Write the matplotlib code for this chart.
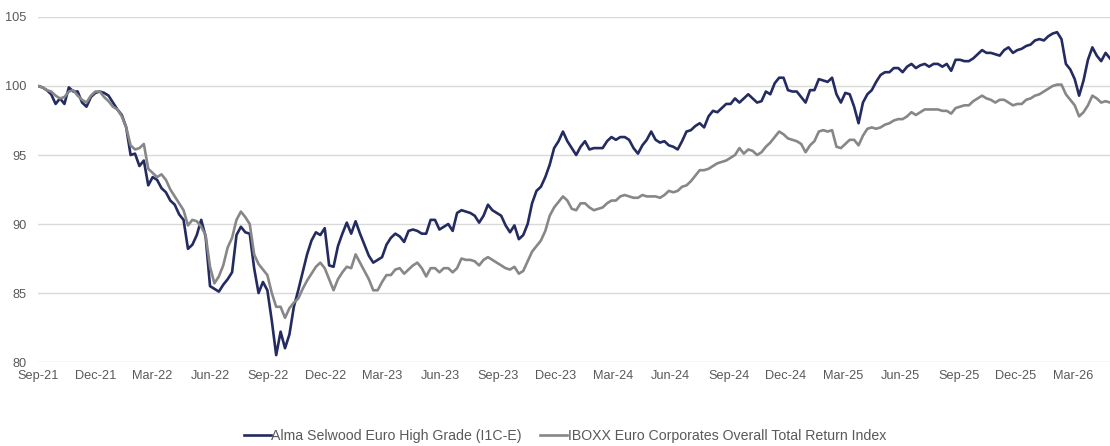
#!/usr/bin/env python3
"""Alma Selwood Euro High Grade vs IBOXX Euro Corporates - rebased performance chart.

Weekly values (rebased to 100 at Sep-21) read off the factsheet chart.
"""
import numpy as np
import pandas as pd
import matplotlib
matplotlib.use("Agg")
import matplotlib.pyplot as plt
import matplotlib.dates as mdates

# ---------------- Data ----------------
start_date = "2021-09-01"
step = "7D"

fund_label = "Alma Selwood Euro High Grade (I1C-E)"
index_label = "IBOXX Euro Corporates Overall Total Return Index"

fund = [
    100.0, 99.9, 99.7, 99.4, 98.7, 99.1, 98.7, 99.9, 99.6, 99.6,
    98.8, 98.5, 99.2, 99.5, 99.6, 99.5, 99.3, 98.8, 98.3, 97.9,
    97.0, 95.0, 95.1, 94.2, 94.6, 92.8, 93.4, 93.2, 92.6, 92.3,
    91.7, 91.4, 90.7, 90.3, 88.2, 88.5, 89.2, 90.3, 89.1, 85.5,
    85.3, 85.1, 85.6, 86.0, 86.5, 89.2, 89.8, 89.4, 89.3, 86.8,
    85.0, 85.8, 85.2, 83.0, 80.5, 82.2, 81.0, 82.0, 84.0, 85.2,
    86.5, 87.8, 88.8, 89.4, 89.2, 89.7, 87.0, 86.9, 88.4, 89.3,
    90.1, 89.3, 90.2, 89.3, 88.5, 87.7, 87.2, 87.4, 87.6, 88.5,
    89.0, 89.3, 89.1, 88.7, 89.5, 89.6, 89.5, 89.3, 89.3, 90.3,
    90.3, 89.6, 89.8, 90.0, 89.5, 90.8, 91.0, 90.9, 90.8, 90.6,
    90.1, 90.6, 91.4, 91.0, 90.8, 90.6, 89.9, 89.4, 89.9, 88.9,
    89.2, 90.0, 91.5, 92.4, 92.7, 93.4, 94.3, 95.5, 96.0, 96.7,
    96.0, 95.5, 95.0, 95.6, 96.0, 95.4, 95.5, 95.5, 95.5, 96.0,
    96.3, 96.1, 96.3, 96.3, 96.1, 95.5, 95.1, 95.7, 96.1, 96.7,
    96.1, 95.9, 96.0, 95.7, 95.6, 95.4, 96.0, 96.7, 96.8, 97.1,
    97.3, 97.0, 97.8, 98.2, 98.1, 98.4, 98.7, 98.7, 99.1, 98.8,
    99.1, 99.4, 99.1, 98.8, 98.9, 99.6, 99.4, 100.2, 100.6, 100.6,
    99.7, 99.6, 99.6, 99.2, 98.8, 99.7, 99.7, 100.5, 100.4, 100.3,
    100.6, 99.4, 98.8, 99.5, 99.4, 98.5, 97.3, 98.8, 99.4, 99.7,
    100.3, 100.8, 101.0, 101.0, 101.3, 101.3, 101.0, 101.4, 101.6, 101.3,
    101.5, 101.6, 101.4, 101.6, 101.6, 101.4, 101.6, 101.1, 101.9, 101.9,
    101.8, 101.8, 102.0, 102.3, 102.6, 102.4, 102.4, 102.3, 102.2, 102.6,
    102.8, 102.4, 102.6, 102.7, 102.9, 103.0, 103.3, 103.4, 103.3, 103.6,
    103.8, 103.9, 103.4, 101.6, 101.2, 100.5, 99.3, 100.4, 101.9, 102.8,
    102.2, 101.8, 102.4, 102.0,
]

index = [
    100.0, 99.9, 99.7, 99.6, 99.3, 99.1, 99.2, 99.6, 99.7, 99.3,
    99.0, 98.8, 99.3, 99.6, 99.6, 99.2, 98.9, 98.5, 98.3, 97.8,
    97.0, 95.7, 95.4, 95.5, 95.8, 94.0, 93.7, 93.4, 93.6, 93.2,
    92.5, 92.0, 91.5, 91.0, 89.9, 90.3, 90.2, 89.8, 89.2, 86.9,
    85.7, 86.2, 87.0, 88.3, 89.0, 90.3, 90.9, 90.5, 90.0, 87.8,
    87.1, 86.7, 86.3, 85.0, 84.0, 84.0, 83.2, 83.9, 84.3, 84.6,
    85.3, 85.9, 86.4, 86.9, 87.2, 86.8, 86.0, 85.2, 86.0, 86.5,
    86.9, 86.8, 87.8, 87.2, 86.6, 86.0, 85.2, 85.2, 85.8, 86.3,
    86.3, 86.7, 86.8, 86.4, 86.7, 87.0, 87.2, 86.8, 86.2, 86.8,
    86.8, 86.5, 86.8, 86.8, 86.5, 86.8, 87.5, 87.4, 87.4, 87.3,
    87.0, 87.4, 87.6, 87.4, 87.2, 87.0, 86.8, 86.7, 86.9, 86.4,
    86.6, 87.3, 88.0, 88.4, 88.8, 89.5, 90.6, 91.2, 91.6, 92.0,
    91.7, 91.1, 91.0, 91.5, 91.5, 91.2, 91.0, 91.1, 91.2, 91.5,
    91.7, 91.7, 92.0, 92.1, 92.0, 91.9, 91.9, 92.1, 92.0, 92.0,
    92.0, 91.9, 92.1, 92.4, 92.3, 92.4, 92.7, 92.8, 93.1, 93.5,
    93.9, 93.9, 94.0, 94.2, 94.4, 94.5, 94.6, 94.8, 95.0, 95.5,
    95.1, 95.4, 95.3, 95.0, 95.2, 95.6, 95.9, 96.3, 96.7, 96.5,
    96.2, 96.1, 96.0, 95.8, 95.2, 95.7, 96.0, 96.7, 96.8, 96.7,
    96.8, 95.6, 95.5, 95.8, 96.1, 96.1, 95.7, 96.4, 96.9, 97.0,
    96.9, 97.0, 97.2, 97.3, 97.5, 97.6, 97.6, 97.8, 98.1, 97.9,
    98.1, 98.3, 98.3, 98.3, 98.3, 98.2, 98.2, 98.0, 98.4, 98.5,
    98.6, 98.6, 98.9, 99.1, 99.3, 99.1, 99.0, 98.8, 99.0, 99.0,
    98.8, 98.6, 98.7, 98.7, 99.0, 99.1, 99.3, 99.4, 99.6, 99.8,
    100.0, 100.1, 100.1, 99.4, 99.0, 98.6, 97.8, 98.1, 98.6, 99.3,
    99.1, 98.8, 98.9, 98.8,
]

y_ticks = [80, 85, 90, 95, 100, 105]


def main():
    plt.rcParams["font.family"] = ["Liberation Sans", "DejaVu Sans"]
    text_color = "#595959"

    dates = pd.date_range(start_date, periods=len(fund), freq=step)

    fig = plt.figure(figsize=(11.10, 4.46), dpi=100)
    ax = fig.add_axes([0.0342, 0.1883, 0.9658, 0.7736])

    ax.plot(dates, fund, color="#232b60", lw=1.9, label=fund_label, zorder=3)
    ax.plot(dates, index, color="#878787", lw=1.9, label=index_label, zorder=4)

    ax.set_ylim(80, 105)
    ax.set_yticks(y_ticks)
    ax.set_xlim(dates[0], dates[-1])

    ax.xaxis.set_major_locator(mdates.MonthLocator(bymonth=[3, 6, 9, 12]))
    ax.xaxis.set_major_formatter(mdates.DateFormatter("%b-%y"))

    ax.grid(axis="y", color="#d9d9d9", lw=1.0)
    ax.set_axisbelow(True)
    for s in ax.spines.values():
        s.set_visible(False)
    ax.tick_params(axis="both", length=0, labelsize=9.2, labelcolor=text_color)
    ax.tick_params(axis="y", pad=8)
    ax.tick_params(axis="x", pad=6)

    # legend text is a touch larger than the tick labels in the original
    fig.legend(loc="center", bbox_to_anchor=(0.509, 0.022), ncol=2, frameon=False,
               fontsize=10.2, labelcolor=text_color, handlelength=1.9,
               handletextpad=0.05, columnspacing=1.3)

    fig.savefig("out.png", dpi=100)
    plt.close(fig)


if __name__ == "__main__":
    main()
